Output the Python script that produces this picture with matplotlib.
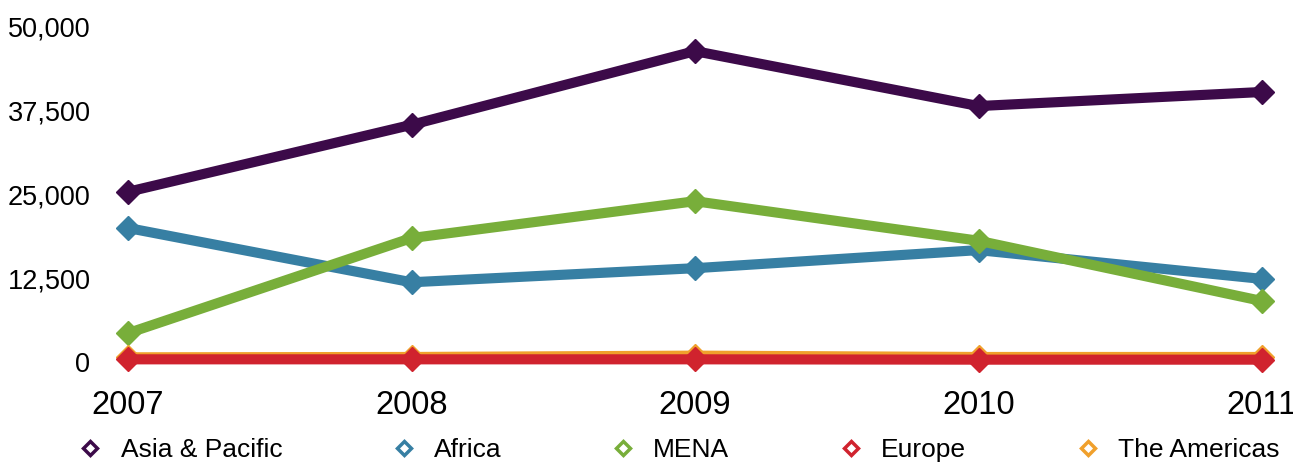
import matplotlib.pyplot as plt
from matplotlib.ticker import FuncFormatter

plt.rcParams['font.family'] = ['Liberation Sans', 'DejaVu Sans']

years = [2007, 2008, 2009, 2010, 2011]
regions = ['Asia & Pacific', 'Africa', 'MENA', 'Europe', 'The Americas']
asia_pacific = [25400, 35400, 46400, 38200, 40300]
africa = [20000, 11900, 14000, 16700, 12400]
mena = [4300, 18500, 24000, 18100, 9100]
europe = [400, 400, 400, 350, 350]
americas = [700, 750, 950, 750, 750]
colores = ['#3c0a49', '#377fa3', '#78ae3a', '#d0232e', '#f0a02c']

datos = [asia_pacific, africa, mena, europe, americas]
# the americas go under europe
orden = [0, 1, 2, 4, 3]

fig = plt.figure(figsize=(12.93, 4.63), dpi=100)
ax = fig.add_axes([128 / 1293, 1 - 362 / 463, (1262 - 128) / 1293, (362 - 27) / 463])

for i in orden:
    ax.plot(years, datos[i], color=colores[i], lw=7.3, marker='D', markersize=12,
            clip_on=False, solid_joinstyle='miter')

handles = [plt.Line2D([], [], ls='none', marker='D', markersize=7, markeredgewidth=2.5,
                      markerfacecolor='white', markeredgecolor=c) for c in colores]
fig.legend(handles, regions, loc='center left', bbox_to_anchor=(77 / 1293, 0.028), ncol=5,
           frameon=False, fontsize=19, handletextpad=0.65, columnspacing=4.1,
           handlelength=1.0, borderpad=0, borderaxespad=0)

ax.set_xlim(2007, 2011)
ax.set_ylim(0, 50000)
ax.set_yticks([0, 12500, 25000, 37500, 50000])
ax.set_xticks(years)
ax.yaxis.set_major_formatter(FuncFormatter(lambda v, p: f'{int(v):,}'))
ax.tick_params(axis='y', labelsize=19.5, length=0, pad=27)
ax.tick_params(axis='x', labelsize=23.5, length=0, pad=20)
for s in ax.spines.values():
    s.set_visible(False)

fig.savefig('out.png', dpi=100)
